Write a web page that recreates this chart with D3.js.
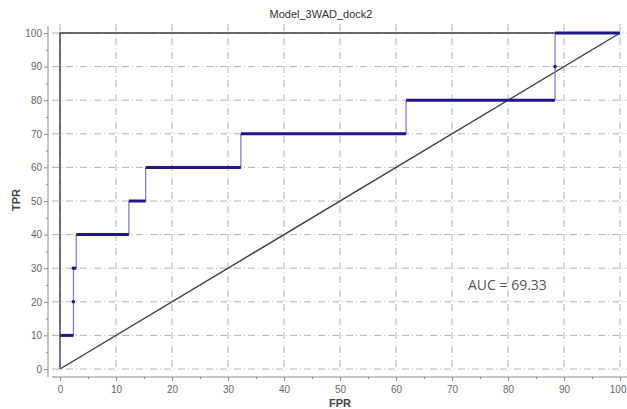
<!DOCTYPE html>
<html>
<head>
<meta charset="utf-8">
<script src="https://cdn.jsdelivr.net/npm/d3@7"></script>
<style>
  body { margin: 0; background: #fff; }
  svg { display: block; font-family: "Liberation Sans", Arial, sans-serif; }
</style>
</head>
<body>
<div id="chart"></div>
<script>
// ROC curve points (FPR, TPR)
var fpr = [0, 0, 2.4, 2.4, 2.9, 2.9, 12.3, 12.3, 15.3, 15.3, 32.3, 32.3, 61.8, 61.8, 88.4, 88.4, 100];
var tpr = [0, 10, 10, 30, 30, 40, 40, 50, 50, 60, 60, 70, 70, 80, 80, 100, 100];
var dotFpr = [2.4, 2.4, 88.4];
var dotTpr = [20, 30, 90];
var tickValues = [0, 10, 20, 30, 40, 50, 60, 70, 80, 90, 100];
var minorValues = [5, 15, 25, 35, 45, 55, 65, 75, 85, 95];
var title = "Model_3WAD_dock2";
var aucLabel = "AUC = 69.33";

var width = 627, height = 409;
var svg = d3.select("#chart").append("svg")
    .attr("width", width)
    .attr("height", height);

var x = d3.scaleLinear().domain([0, 100]).range([60, 620]);
var y = d3.scaleLinear().domain([0, 100]).range([369, 33]);

// grid
var grid = svg.append("g").attr("class", "grid");
grid.selectAll("line.v")
    .data(tickValues)
    .enter()
    .append("line")
    .attr("x1", function (d) { return x(d); })
    .attr("x2", function (d) { return x(d); })
    .attr("y1", 24)
    .attr("y2", 374)
    .attr("stroke", "#b4b4b4")
    .attr("stroke-dasharray", "7,3,1,3");
grid.selectAll("line.h")
    .data(tickValues)
    .enter()
    .append("line")
    .attr("x1", 52)
    .attr("x2", 627)
    .attr("y1", function (d) { return y(d); })
    .attr("y2", function (d) { return y(d); })
    .attr("stroke", "#b4b4b4")
    .attr("stroke-dasharray", "7,3,1,3");

// axes (detached from the plot area)
var yAxis = svg.append("g")
    .attr("transform", "translate(48,0)")
    .call(d3.axisLeft(y).tickValues(tickValues).tickSize(4).tickPadding(2));
yAxis.append("g")
    .call(d3.axisLeft(y).tickValues(minorValues).tickSize(2).tickFormat(""));
var xAxis = svg.append("g")
    .attr("transform", "translate(0,377)")
    .call(d3.axisBottom(x).tickValues(tickValues).tickSize(4).tickPadding(5));
xAxis.append("g")
    .call(d3.axisBottom(x).tickValues(minorValues).tickSize(2).tickFormat(""));
svg.selectAll(".domain").remove();
svg.selectAll(".tick line").attr("stroke", "#8a8a8a");
svg.selectAll(".tick text")
    .attr("fill", "#666")
    .attr("font-size", 10)
    .attr("font-family", "Liberation Sans, Arial, sans-serif");
// last x label sits against the right edge
xAxis.selectAll(".tick text")
    .filter(function (d) { return d === 100; })
    .attr("text-anchor", "end")
    .attr("dx", 6);
svg.append("line")
    .attr("x1", 48).attr("x2", 48)
    .attr("y1", 26).attr("y2", 377)
    .attr("stroke", "#8a8a8a");
svg.append("line")
    .attr("x1", 52).attr("x2", 627)
    .attr("y1", 377).attr("y2", 377)
    .attr("stroke", "#8a8a8a");

// reference lines: perfect classifier and chance diagonal
svg.append("path")
    .attr("d", "M" + x(0) + "," + y(0) + "L" + x(0) + "," + y(100) + "L" + x(100) + "," + y(100))
    .attr("fill", "none")
    .attr("stroke", "#3c3c3c")
    .attr("stroke-width", 1.4);
svg.append("line")
    .attr("x1", x(0)).attr("y1", y(0))
    .attr("x2", x(100)).attr("y2", y(100))
    .attr("stroke", "#3c3c3c")
    .attr("stroke-width", 1.4);

// ROC steps: horizontal runs thick, vertical jumps thin
var segs = [];
for (var i = 1; i < fpr.length; i++) {
    segs.push({ x1: fpr[i - 1], y1: tpr[i - 1], x2: fpr[i], y2: tpr[i] });
}
svg.append("g").selectAll("line")
    .data(segs.filter(function (s) { return s.y1 !== s.y2; }))
    .enter()
    .append("line")
    .attr("x1", function (s) { return x(s.x1); })
    .attr("y1", function (s) { return y(s.y1); })
    .attr("x2", function (s) { return x(s.x2); })
    .attr("y2", function (s) { return y(s.y2); })
    .attr("stroke", "#7c74d4")
    .attr("stroke-width", 1.2);
svg.append("g").selectAll("line")
    .data(segs.filter(function (s) { return s.y1 === s.y2; }))
    .enter()
    .append("line")
    .attr("x1", function (s) { return x(s.x1); })
    .attr("y1", function (s) { return y(s.y1); })
    .attr("x2", function (s) { return x(s.x2); })
    .attr("y2", function (s) { return y(s.y2); })
    .attr("stroke", "#1e1888")
    .attr("stroke-width", 3);
svg.append("g").selectAll("circle")
    .data(dotFpr)
    .enter()
    .append("circle")
    .attr("cx", function (d) { return x(d); })
    .attr("cy", function (d, i) { return y(dotTpr[i]); })
    .attr("r", 1.8)
    .attr("fill", "#1e1888");

// labels
svg.append("text")
    .attr("x", 321).attr("y", 18)
    .attr("text-anchor", "middle")
    .attr("font-size", 11)
    .attr("fill", "#333")
    .text(title);
svg.append("text")
    .attr("transform", "translate(20,200) rotate(-90)")
    .attr("text-anchor", "middle")
    .attr("font-size", 11)
    .attr("font-weight", "bold")
    .attr("fill", "#444")
    .text("TPR");
svg.append("text")
    .attr("x", 340).attr("y", 407)
    .attr("text-anchor", "middle")
    .attr("font-size", 11)
    .attr("font-weight", "bold")
    .attr("fill", "#444")
    .text("FPR");
svg.append("text")
    .attr("x", 468).attr("y", 290)
    .attr("font-size", 14)
    .attr("fill", "#555")
    .attr("font-family", "Open Sans, sans-serif")
    .text(aucLabel);
</script>
</body>
</html>
